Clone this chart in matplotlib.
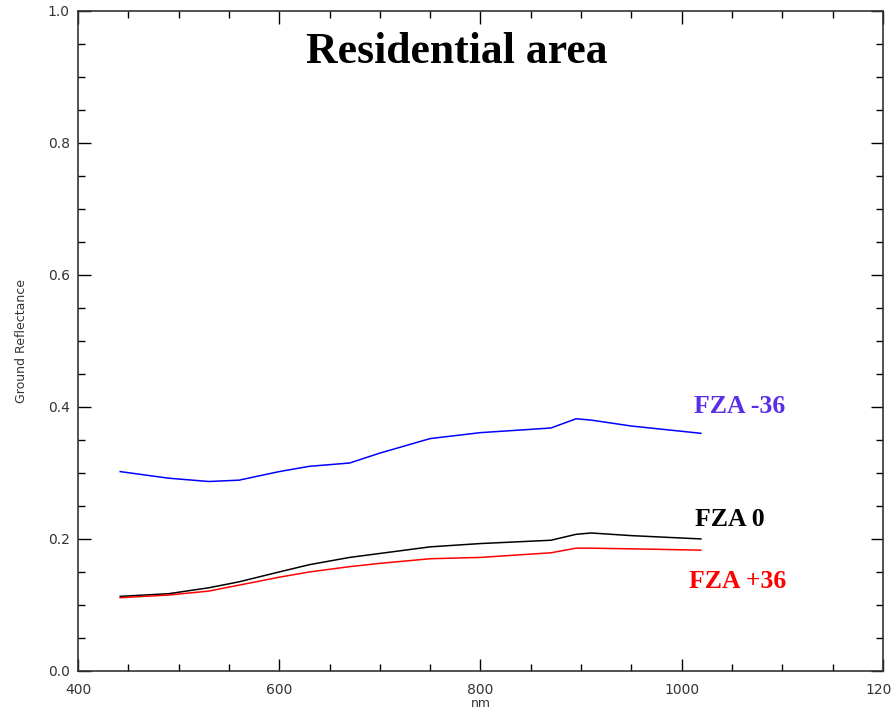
import matplotlib.pyplot as plt
from matplotlib.ticker import MultipleLocator

# Data
wavelength = [442, 490, 530, 560, 600, 630, 670, 700, 750, 800, 870, 895, 910, 950, 1019]
fza_m36 = [0.302, 0.292, 0.287, 0.289, 0.302, 0.310, 0.315, 0.330, 0.352, 0.361,
           0.368, 0.382, 0.380, 0.371, 0.360]
fza_0 = [0.113, 0.117, 0.126, 0.135, 0.150, 0.161, 0.172, 0.178, 0.188, 0.193,
         0.198, 0.207, 0.209, 0.205, 0.200]
fza_p36 = [0.111, 0.115, 0.121, 0.130, 0.142, 0.150, 0.158, 0.163, 0.170, 0.172,
           0.179, 0.186, 0.186, 0.185, 0.183]

fig = plt.figure(figsize=(8.91, 7.18), dpi=100)
ax = fig.add_axes([0.0875, 0.0655, 0.9035, 0.9195])

ax.plot(wavelength, fza_m36, color='#0000ff', linewidth=1.1)
ax.plot(wavelength, fza_0, color='black', linewidth=1.1)
ax.plot(wavelength, fza_p36, color='#ff0000', linewidth=1.1)

ax.set_xlim(400, 1200)
ax.set_ylim(0, 1.0)
ax.xaxis.set_major_locator(MultipleLocator(200))
ax.xaxis.set_minor_locator(MultipleLocator(50))
ax.yaxis.set_major_locator(MultipleLocator(0.2))
ax.yaxis.set_minor_locator(MultipleLocator(0.05))
ax.tick_params(which='both', direction='in', top=True, right=True,
               labelsize=10, labelcolor='#333333', width=1)
ax.tick_params(which='major', length=9)
ax.tick_params(axis='x', which='major', pad=9)
ax.tick_params(axis='y', which='major', pad=6)
ax.tick_params(which='minor', length=5)
ax.set_yticks([0, 0.2, 0.4, 0.6, 0.8, 1.0], ["0.0", "0.2", "0.4", "0.6", "0.8", "1.0"])
ax.set_xticks([400, 600, 800, 1000, 1200])
for s in ax.spines.values():
    s.set_linewidth(1.2)
    s.set_color('#333333')

ax.set_xlabel("nm", fontsize=9, labelpad=0, color='#333333')
ax.set_ylabel("Ground Reflectance", fontsize=9, labelpad=14, color='#333333')

serif = 'Liberation Serif'
ax.text(0.471, 0.938, "Residential area", transform=ax.transAxes, ha='center', va='center',
        fontsize=31.5, fontweight='bold', family=serif)
ax.text(1058, 0.401, "FZA -36", ha='center', va='center', fontsize=18.5,
        fontweight='bold', family=serif, color='#5a2ee6')
ax.text(1048, 0.229, "FZA 0", ha='center', va='center', fontsize=18.5,
        fontweight='bold', family=serif, color='black')
ax.text(1056, 0.136, "FZA +36", ha='center', va='center', fontsize=18.5,
        fontweight='bold', family=serif, color='#ff0000')

plt.savefig("out.png", dpi=100)
